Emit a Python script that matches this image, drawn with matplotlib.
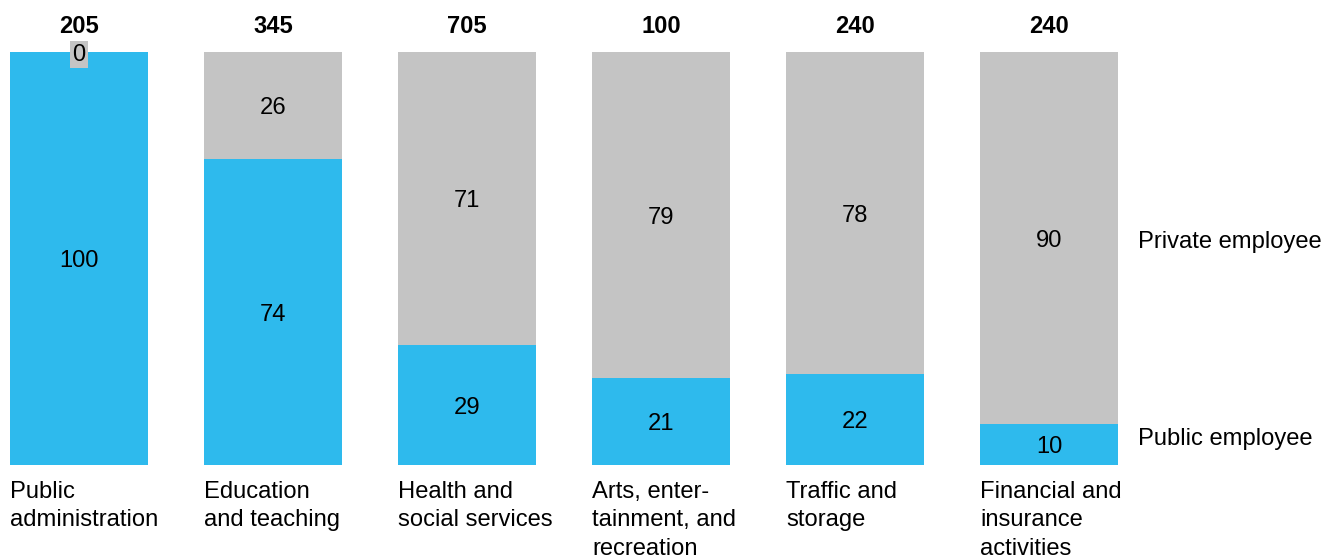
import matplotlib.pyplot as plt

plt.rcParams['font.family'] = ['Liberation Sans', 'DejaVu Sans']

categories = ['Public\nadministration', 'Education\nand teaching', 'Health and\nsocial services',
              'Arts, enter-\ntainment, and\nrecreation', 'Traffic and\nstorage',
              'Financial and\ninsurance\nactivities']
totals = [205, 345, 705, 100, 240, 240]
public = [100, 74, 29, 21, 22, 10]
private = [0, 26, 71, 79, 78, 90]

blue = '#2EBAED'
grey = '#C4C4C4'
fs = 17.1
w = 0.711

fig = plt.figure(figsize=(13.38, 5.57), dpi=100)
ax = fig.add_axes([10 / 1338, 92 / 557, 1108 / 1338, 413 / 557])
ax.set_xlim(-w / 2, len(categories) - 1 + w / 2)
ax.set_ylim(0, 100)
ax.axis('off')

x = list(range(len(categories)))
ax.bar(x, public, width=w, color=blue)
ax.bar(x, private, width=w, bottom=public, color=grey)


def seg_label(xv, yv, s, **kw):
    ax.annotate(s, (xv, yv), xytext=(0, -2), textcoords='offset points',
                ha='center', va='center', fontsize=fs, **kw)


for i in x:
    # segment values
    if public[i] > 0:
        seg_label(i, public[i] / 2, str(public[i]))
    if private[i] > 0:
        seg_label(i, public[i] + private[i] / 2, str(private[i]))
    else:
        seg_label(i, 100, '0', bbox=dict(boxstyle='square,pad=0.1', fc=grey, ec='none'))
    # totals on top
    ax.annotate(str(totals[i]), (i, 100), xytext=(0, 18.5), textcoords='offset points',
                ha='center', va='center', fontsize=fs, fontweight='bold')
    # category names below
    ax.annotate(categories[i], (i - w / 2, 0), xytext=(0, -11.5), textcoords='offset points',
                ha='left', va='top', fontsize=fs, linespacing=1.38)

last = len(categories) - 1
ax.annotate('Private employee', (last + w / 2, public[last] + private[last] / 2),
            xytext=(14.5, -3), textcoords='offset points', ha='left', va='center', fontsize=fs)
ax.annotate('Public employee', (last + w / 2, public[last] / 2),
            xytext=(14.5, 4), textcoords='offset points', ha='left', va='center', fontsize=fs)

fig.savefig('out.png', dpi=100)
